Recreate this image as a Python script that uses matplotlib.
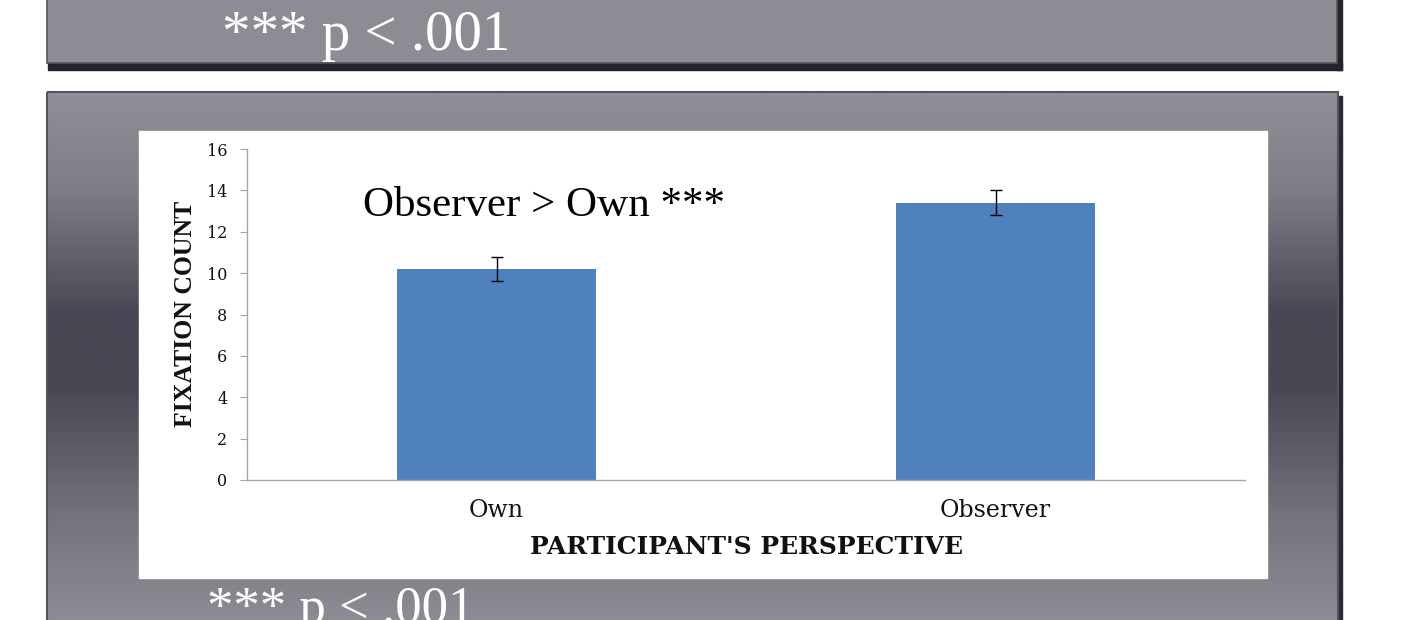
import numpy as np
import matplotlib.pyplot as plt
from matplotlib.patches import Rectangle
from matplotlib.colors import LinearSegmentedColormap

categories = ["Own", "Observer"]
means = [10.2, 13.4]
errors = [0.6, 0.6]
yticks = [0, 2, 4, 6, 8, 10, 12, 14, 16]
note = "*** p < .001"
comparison = "Observer > Own ***"

W, H = 1415, 620
fig = plt.figure(figsize=(W / 100, H / 100), dpi=100, facecolor="white")

# background layer in pixel coordinates (y downwards)
bg = fig.add_axes([0, 0, 1, 1])
bg.set_xlim(0, W)
bg.set_ylim(H, 0)
bg.axis("off")

# top panel
bg.add_patch(Rectangle((48, 63), 1294, 7, color="#24242a", zorder=1))
bg.add_patch(Rectangle((1336, 0), 6, 70, color="#24242a", zorder=1))
bg.add_patch(Rectangle((47, -2), 1290, 65, facecolor="#8c8c94",
                       edgecolor="#55555f", lw=1.2, zorder=2))

# bottom panel with vertical gradient
bg.add_patch(Rectangle((1336, 96), 6, 530, color="#2a2a32", zorder=1))
grad_cmap = LinearSegmentedColormap.from_list(
    "slide", [(0, "#8f8f97"), (0.18, "#7e7e87"), (0.42, "#474753"),
              (0.55, "#474753"), (0.8, "#74747d"), (1, "#8d8d95")])
g = np.linspace(0, 1, 300).reshape(-1, 1)
bg.imshow(g, cmap=grad_cmap, aspect="auto", extent=(47, 1338, 625, 92),
          zorder=2, interpolation="bilinear")
bg.add_patch(Rectangle((47, 92), 1291, 540, facecolor="none",
                       edgecolor="#55555f", lw=1.5, zorder=3))
bg.set_xlim(0, W)
bg.set_ylim(H, 0)

# white chart area
bg.add_patch(Rectangle((139, 131), 1128, 447, color="white", zorder=4))

bg.text(222, 50, note, family="Liberation Serif", fontsize=41,
        color="white", va="baseline", ha="left", zorder=5)
bg.text(207, 623, note, family="Liberation Serif", fontsize=38,
        color="white", va="baseline", ha="left", zorder=5)

# chart
ax = fig.add_axes([247 / W, (H - 480) / H, 998 / W, 331 / H])
ax.set_facecolor("none")
x = np.arange(len(categories))
ax.bar(x, means, width=0.4, color="#4f81bd", zorder=2)
ax.errorbar(x, means, yerr=errors, fmt="none", ecolor="black",
            elinewidth=1, capsize=4, capthick=1, zorder=3)
ax.set_xlim(-0.5, 1.5)
ax.set_ylim(0, 16)
ax.set_yticks(yticks)
ax.set_xticks(x)
ax.set_xticklabels(categories, family="DejaVu Serif", fontsize=17)
ax.tick_params(axis="x", length=0, pad=14, colors="#111111")
ax.tick_params(axis="y", length=5, width=0.8, color="#a6a6a6", pad=9,
               labelcolor="#111111")
for lab in ax.get_yticklabels():
    lab.set_family("DejaVu Serif")
    lab.set_fontsize(11.5)
for s in ["top", "right"]:
    ax.spines[s].set_visible(False)
for s in ["left", "bottom"]:
    ax.spines[s].set_color("#a6a6a6")
    ax.spines[s].set_linewidth(1)

bg.text(746, 554, "PARTICIPANT'S PERSPECTIVE", family="DejaVu Serif",
        fontweight="bold", fontsize=18, color="#111111",
        ha="center", va="baseline", zorder=5)
bg.text(185, 314, "FIXATION COUNT", family="Liberation Serif",
        fontweight="bold", fontsize=18.5, color="#111111", rotation=90,
        ha="center", va="center", zorder=5)
bg.text(363, 216, comparison, family="Liberation Serif", fontsize=31,
        color="black", ha="left", va="baseline", zorder=5)

fig.savefig("out.png", dpi=100, facecolor="white")
